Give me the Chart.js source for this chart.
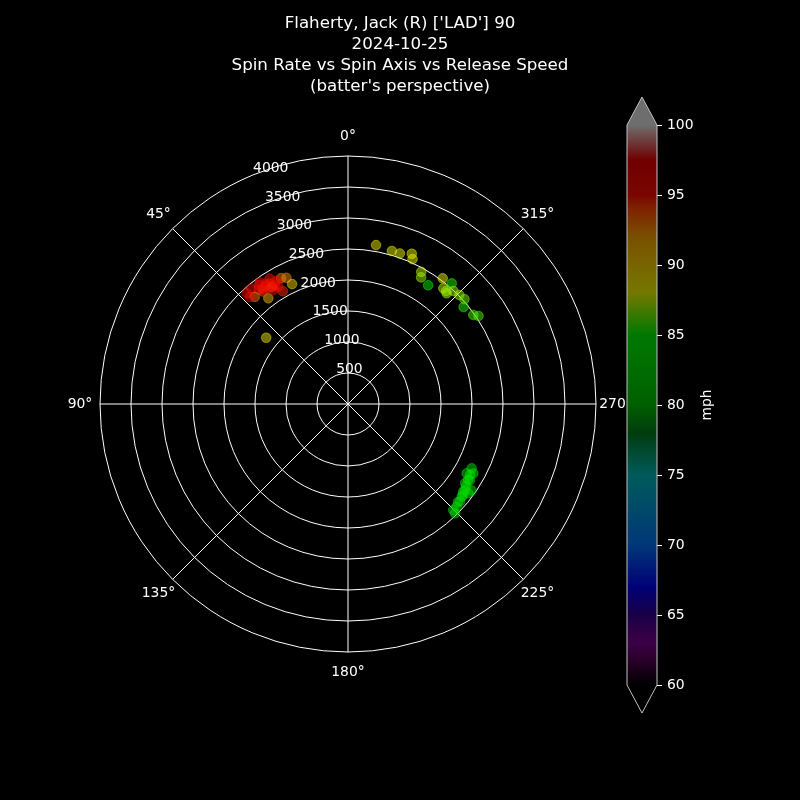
<!DOCTYPE html>
<html><head><meta charset="utf-8">
<script src="https://cdn.jsdelivr.net/npm/chart.js@4.4.1/dist/chart.umd.min.js"></script>
<style>
html,body{margin:0;padding:0;background:#000;}
#wrap{position:relative;width:800px;height:800px;background:#000;overflow:hidden;}
#main{position:absolute;left:0;top:0;}
#cbar{position:absolute;left:600px;top:80px;}
</style></head><body>
<div id="wrap"><canvas id="main" width="800" height="800"></canvas><canvas id="cbar" width="160" height="660"></canvas></div>
<script>
// ---- data ----
const titleLines = ["Flaherty, Jack (R) ['LAD'] 90", "2024-10-25", "Spin Rate vs Spin Axis vs Release Speed", "(batter's perspective)"];
// plotted spin axis (deg, counter-clockwise from top), spin rate (rpm), release speed (mph)
const spinAxis = [28, 26, 25, 30, 32, 36, 35, 38, 40, 42.5, 41, 37, 33, 37, 31.5, 34.6, 33, 30.7, 42.5, 51, 34.3, 33, 36.8, 30.3, 36.8,
  350, 344, 341, 337, 336, 331, 330, 326, 323, 320.5, 319, 319.3, 318.3, 317, 314.4, 312, 310, 305.4, 304,
  242.5, 239.7, 241, 236, 238, 235, 233.4, 230.8, 229, 226.6, 224.8, 224.4, 233.7, 232.6, 239.8, 237.7, 235.2, 231.6, 228.3];
const spinRate = [2300, 2265, 2134, 2100, 2386, 2422, 2318, 2340, 2428, 2420, 2290, 2135, 2198, 2269, 2252, 2266, 2318, 2201, 2340, 1698, 2344, 2250, 2316, 2299, 2397,
  2603, 2568, 2568, 2633, 2558, 2437, 2358, 2310, 2538, 2418, 2413, 2566, 2392, 2492, 2513, 2527, 2434, 2479, 2539,
  2249, 2217, 2310, 2280, 2318, 2430, 2416, 2366, 2397, 2412, 2410, 2467, 2342, 2335, 2277, 2291, 2318, 2365, 2376];
const releaseSpeed = [93, 92.5, 89.5, 94.5, 95.5, 95.5, 95, 96, 95.5, 96, 93, 91, 95, 94, 95.5, 95, 95, 95, 95.5, 88.5, 95, 94.5, 95, 95, 95.5,
  88.5, 88, 88, 88, 88, 87.5, 87, 85, 88, 87.5, 87, 85.5, 87, 87, 87, 86.5, 85.5, 86, 86,
  83, 83, 83.5, 83, 83, 83, 83, 82.5, 83, 82.5, 83, 82.5, 83, 83, 83, 83.5, 83, 83, 82.5];
const radialTicks = [500, 1000, 1500, 2000, 2500, 3000, 3500, 4000];
const radialMax = 4000;
const angleTicks = [0, 45, 90, 135, 180, 225, 270, 315];
const colorbarTicks = [60, 65, 70, 75, 80, 85, 90, 95, 100];
const cbarLabel = 'mph';
// colormap stops
const cmapValues = [60, 61.5, 63, 65, 67, 70, 75, 78, 80, 85, 88, 90, 92, 94, 95, 97.5, 100];
const cmapColors = [[0,0,0],[70,0,70],[120,0,140],[50,0,140],[0,0,235],[0,110,240],[0,180,180],[0,120,30],[0,190,0],[0,240,0],[230,240,0],[240,200,0],[240,160,0],[250,70,0],[245,10,0],[220,0,0],[220,220,220]];
const ALPHA = 0.5;

function cmap(v){
  if (v <= cmapValues[0]) return cmapColors[0];
  for (let i = 1; i < cmapValues.length; i++){
    if (v <= cmapValues[i]){
      const t = (v - cmapValues[i-1])/(cmapValues[i]-cmapValues[i-1]);
      const a = cmapColors[i-1], b = cmapColors[i];
      return [0,1,2].map(k => Math.round(a[k] + (b[k]-a[k])*t));
    }
  }
  return cmapColors[cmapColors.length-1];
}
function rgba(v, a){ const c = cmap(v); return `rgba(${c[0]},${c[1]},${c[2]},${a})`; }

const FONT = 'DejaVu Sans';
const deg = Math.PI/180;

const polarPlugin = {
  id: 'polar',
  beforeDatasetsDraw(chart){
    const {ctx, scales:{x, y}} = chart;
    const cx = x.getPixelForValue(0), cy = y.getPixelForValue(0);
    const rp = v => x.getPixelForValue(v) - cx;
    ctx.save();
    ctx.strokeStyle = '#ffffff'; ctx.lineWidth = 1;
    radialTicks.forEach(t => { ctx.beginPath(); ctx.arc(cx, cy, rp(t), 0, 2*Math.PI); ctx.stroke(); });
    const R = rp(radialMax);
    angleTicks.forEach(a => {
      ctx.beginPath(); ctx.moveTo(cx, cy);
      ctx.lineTo(cx - R*Math.sin(a*deg), cy - R*Math.cos(a*deg)); ctx.stroke();
    });
    ctx.fillStyle = '#ffffff';
    ctx.font = `13.9px "${FONT}"`;
    ctx.textAlign = 'center'; ctx.textBaseline = 'middle';
    angleTicks.forEach(a => {
      const rr = R + 20;
      ctx.fillText(a + '°', cx - rr*Math.sin(a*deg), cy - rr*Math.cos(a*deg));
    });
    ctx.textAlign = 'left'; ctx.textBaseline = 'bottom';
    const la = 22.5*deg;
    radialTicks.forEach(t => {
      const rr = rp(t);
      ctx.fillText(String(t), cx - rr*Math.sin(la), cy - rr*Math.cos(la) + 0.5);
    });
    ctx.restore();
  },
  afterDraw(chart){
    const ctx = chart.ctx;
    ctx.save();
    ctx.fillStyle = '#ffffff';
    ctx.font = `16.67px "${FONT}"`;
    ctx.textAlign = 'center'; ctx.textBaseline = 'middle';
    titleLines.forEach((l, i) => ctx.fillText(l, 400, 24 + i*21));
    ctx.restore();
  }
};

new Chart(document.getElementById('main'), {
  type: 'scatter',
  data: { datasets: [{
    data: spinAxis.map((a, i) => ({ x: -spinRate[i]*Math.sin(a*deg), y: spinRate[i]*Math.cos(a*deg), v: releaseSpeed[i] })),
    backgroundColor: c => rgba(c.raw ? c.raw.v : 80, ALPHA),
    borderColor: c => rgba(c.raw ? c.raw.v : 80, ALPHA),
    borderWidth: 1, pointRadius: 4.8, pointHoverRadius: 4.8
  }]},
  options: {
    responsive: false, animation: false, devicePixelRatio: 1, events: [],
    layout: { padding: { left: 100, right: 204, top: 156, bottom: 148 } },
    scales: { x: { display: false, min: -radialMax, max: radialMax }, y: { display: false, min: -radialMax, max: radialMax } },
    plugins: { legend: { display: false }, tooltip: { enabled: false } }
  },
  plugins: [polarPlugin]
});

const cbMin = colorbarTicks[0], cbMax = colorbarTicks[colorbarTicks.length-1];
function cbGradient(chart){
  const area = chart.chartArea, ys = chart.scales.y;
  if (!area || !ys) return rgba(80, ALPHA);
  const y0 = ys.getPixelForValue(cbMin), y1 = ys.getPixelForValue(cbMax);
  const g = chart.ctx.createLinearGradient(0, y0, 0, y1);
  cmapValues.forEach((v, i) => { g.addColorStop((v - cbMin)/(cbMax - cbMin), rgba(v, ALPHA)); });
  return g;
}
const cbarPlugin = {
  id: 'cbar',
  beforeDatasetsDraw(chart){
    const {ctx, chartArea:a} = chart;
    ctx.save(); ctx.fillStyle = '#000'; ctx.fillRect(a.left, a.top, a.right - a.left, a.bottom - a.top); ctx.restore();
  },
  afterDraw(chart){
    const {ctx, chartArea:a, scales:{y}} = chart;
    const top = y.getPixelForValue(cbMax), bot = y.getPixelForValue(cbMin);
    const mid = (a.left + a.right)/2, ext = 0.05*(bot - top);
    ctx.save();
    const tri = (yb, yt, v) => {
      ctx.beginPath(); ctx.moveTo(a.left, yb); ctx.lineTo(mid, yt); ctx.lineTo(a.right, yb); ctx.closePath();
      ctx.fillStyle = '#000'; ctx.fill(); ctx.fillStyle = rgba(v, ALPHA); ctx.fill();
    };
    tri(top, top - ext, cbMax);
    tri(bot, bot + ext, cbMin);
    ctx.beginPath();
    ctx.moveTo(a.left, top); ctx.lineTo(mid, top - ext); ctx.lineTo(a.right, top);
    ctx.lineTo(a.right, bot); ctx.lineTo(mid, bot + ext); ctx.lineTo(a.left, bot); ctx.closePath();
    ctx.strokeStyle = '#c0c0c0'; ctx.lineWidth = 1; ctx.stroke();
    ctx.translate(107, (top + bot)/2);
    ctx.rotate(-Math.PI/2);
    ctx.fillStyle = '#fff'; ctx.font = `13.9px "${FONT}"`; ctx.textAlign = 'center'; ctx.textBaseline = 'middle';
    ctx.fillText(cbarLabel, 0, 0);
    ctx.restore();
  }
};

new Chart(document.getElementById('cbar'), {
  type: 'bar',
  data: { labels: [cbarLabel], datasets: [{ data: [[cbMin, cbMax]], backgroundColor: c => cbGradient(c.chart), borderWidth: 0, barPercentage: 1, categoryPercentage: 1 }] },
  options: {
    responsive: false, animation: false, devicePixelRatio: 1, events: [],
    layout: { padding: { left: 27, top: 45, bottom: 55, right: 0 } },
    scales: {
      x: { display: false },
      y: { position: 'right', min: cbMin, max: cbMax,
        ticks: { stepSize: 5, color: '#ffffff', font: { family: FONT, size: 13.9 }, padding: 5 },
        grid: { drawOnChartArea: false, drawTicks: true, tickLength: 5, color: '#ffffff', lineWidth: 1 },
        border: { display: false },
        afterFit(s){ s.width = 103; } }
    },
    plugins: { legend: { display: false }, tooltip: { enabled: false } }
  },
  plugins: [cbarPlugin]
});
</script>
</body></html>
